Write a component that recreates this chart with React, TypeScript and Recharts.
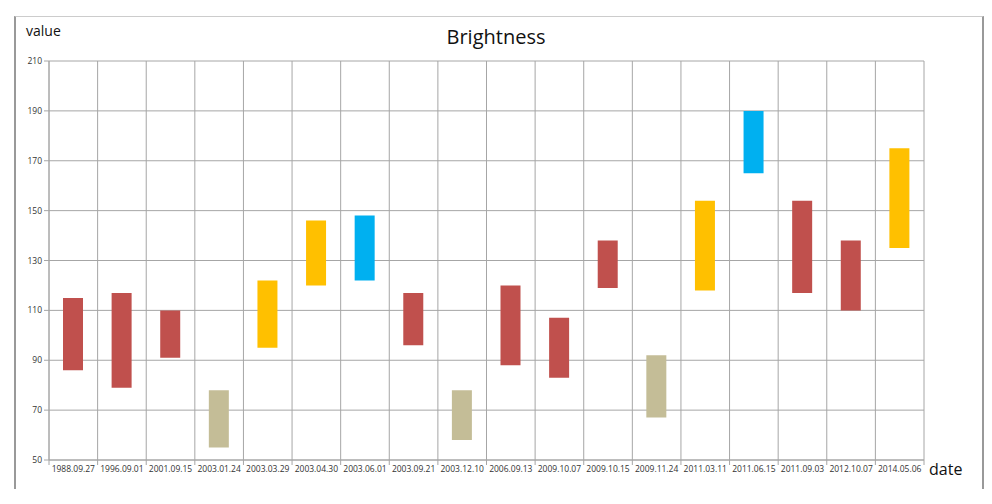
import { BarChart, Bar, XAxis, YAxis, CartesianGrid, Cell } from 'recharts'

const dates = [
  '1988.09.27', '1996.09.01', '2001.09.15', '2003.01.24', '2003.03.29', '2003.04.30',
  '2003.06.01', '2003.09.21', '2003.12.10', '2006.09.13', '2009.10.07', '2009.10.15',
  '2009.11.24', '2011.03.11', '2011.06.15', '2011.09.03', '2012.10.07', '2014.05.06',
]
const lows = [86, 79, 91, 55, 95, 120, 122, 96, 58, 88, 83, 119, 67, 118, 165, 117, 110, 135]
const highs = [115, 117, 110, 78, 122, 146, 148, 117, 78, 120, 107, 138, 92, 154, 190, 154, 138, 175]
const kinds = ['r', 'r', 'r', 't', 'y', 'y', 'b', 'r', 't', 'r', 'r', 'r', 't', 'y', 'b', 'r', 'r', 'y']
const yTicks = [50, 70, 90, 110, 130, 150, 170, 190, 210]

const palette: Record<string, string> = {
  r: '#C0504D',
  t: '#C4BD97',
  y: '#FFC000',
  b: '#00B0F0',
}

const data = dates.map((d, i) => ({ date: d, range: [lows[i], highs[i]], kind: kinds[i] }))

const W = 976
const H = 488
const M = { top: 53, right: 60, bottom: 16, left: 11 }
const Y_W = 30
const PLOT_W = W - M.left - M.right - Y_W
const BAND = PLOT_W / dates.length
const GRID = '#a6a6a6'
const FONT = '"Open Sans", "Liberation Sans", sans-serif'

// eslint-disable-next-line @typescript-eslint/no-explicit-any
function DateTick({ x, y, payload, index }: any) {
  const left = x - BAND / 2
  return (
    <g>
      <line x1={left} y1={y} x2={left} y2={y + 5} stroke={GRID} />
      {index === dates.length - 1 && (
        <line x1={x + BAND / 2} y1={y} x2={x + BAND / 2} y2={y + 5} stroke={GRID} />
      )}
      <text x={x} y={y + 12} textAnchor="middle" fontSize={8.5} fill="#333" fontFamily={FONT}>
        {payload.value}
      </text>
    </g>
  )
}

export default function App() {
  return (
    <div style={{ position: 'relative', width: W, height: H, fontFamily: FONT, background: '#fff' }}>
      <div style={{
        position: 'absolute', left: 6, top: 8, width: 966, height: 472,
        borderLeft: '2px solid #999', borderRight: '2px solid #999', borderTop: '1px solid #ccc',
      }} />
      <div style={{ position: 'absolute', left: 0, width: W, top: 15, textAlign: 'center', fontSize: 20, color: '#111' }}>
        Brightness
      </div>
      <div style={{ position: 'absolute', left: 18, top: 13, fontSize: 14, color: '#111' }}>value</div>
      <div style={{ position: 'absolute', left: 921, top: 450, fontSize: 16, color: '#111' }}>date</div>
      <BarChart width={W} height={H} data={data} margin={M} barSize={20} style={{ position: 'absolute', left: 0, top: 0 }}>
        <CartesianGrid
          stroke={GRID}
          verticalCoordinatesGenerator={({ offset }: any) =>
            Array.from({ length: dates.length + 1 }, (_, i) => offset.left + (i * offset.width) / dates.length)
          }
        />
        <XAxis
          dataKey="date"
          interval={0}
          tickLine={false}
          tickSize={0}
          tickMargin={0}
          axisLine={{ stroke: GRID }}
          tick={<DateTick />}
          height={20}
        />
        <YAxis
          domain={[50, 210]}
          ticks={yTicks}
          width={Y_W}
          axisLine={{ stroke: GRID }}
          tickLine={{ stroke: GRID }}
          tickSize={5}
          tick={{ fontSize: 8.5, fill: '#333', fontFamily: FONT }}
        />
        <Bar dataKey="range" isAnimationActive={false}>
          {data.map((d, i) => (
            <Cell key={i} fill={palette[d.kind]} />
          ))}
        </Bar>
      </BarChart>
    </div>
  )
}
